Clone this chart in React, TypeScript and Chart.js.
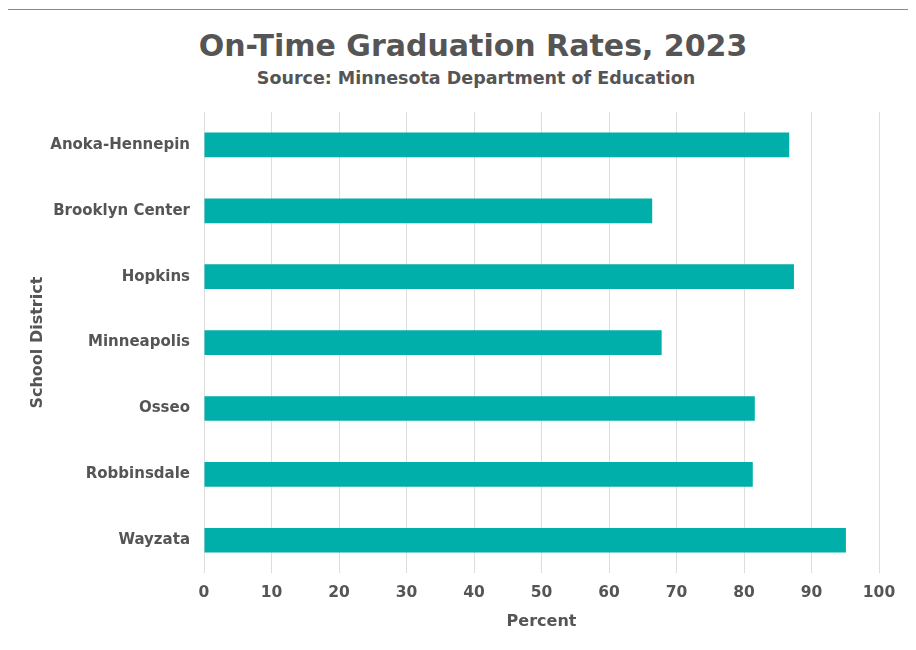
import React, { useEffect, useRef } from "react";
import { Chart, registerables } from "chart.js";

Chart.register(...registerables);

const districts = [
  "Anoka-Hennepin",
  "Brooklyn Center",
  "Hopkins",
  "Minneapolis",
  "Osseo",
  "Robbinsdale",
  "Wayzata",
];
const rates = [86.7, 66.4, 87.4, 67.8, 81.6, 81.3, 95.1];

const titleText = "On-Time Graduation Rates, 2023";
const subtitleText = "Source: Minnesota Department of Education";
const xTitle = "Percent";
const yTitle = "School District";

const FONT = "'DejaVu Sans', 'Open Sans', sans-serif";
const TEXT = "#555555";
const BAR = "#00AFAA";

export default function App() {
  const ref = useRef<HTMLCanvasElement | null>(null);

  useEffect(() => {
    if (!ref.current) return;
    const chart = new Chart(ref.current, {
      type: "bar",
      data: {
        labels: districts,
        datasets: [
          {
            data: rates,
            backgroundColor: BAR,
            borderWidth: 0,
            categoryPercentage: 1,
            barPercentage: 0.375,
          },
        ],
      },
      options: {
        indexAxis: "y",
        animation: false,
        responsive: false,
        layout: { padding: { top: 104, left: 16, right: 37, bottom: 12 } },
        plugins: {
          legend: { display: false },
          tooltip: { enabled: false },
          title: { display: false },
        },
        scales: {
          x: {
            min: 0,
            max: 100,
            ticks: {
              stepSize: 10,
              padding: 10,
              color: TEXT,
              font: { family: FONT, size: 15.5, weight: "bold" },
            },
            grid: { color: "#dddddd", drawTicks: false, lineWidth: 1 },
            border: { display: false },
            title: {
              display: true,
              text: xTitle,
              color: TEXT,
              padding: { top: 0, bottom: 7 },
              font: { family: FONT, size: 16, weight: "bold" },
            },
          },
          y: {
            ticks: {
              padding: 6,
              color: TEXT,
              font: { family: FONT, size: 15, weight: "bold" },
            },
            grid: { display: false },
            border: { display: false },
            title: {
              display: true,
              text: yTitle,
              color: TEXT,
              padding: { top: 4, bottom: 4 },
              font: { family: FONT, size: 16, weight: "bold" },
            },
            afterFit: (axis: any) => {
              axis.width = 180;
            },
          },
        },
      },
    });
    return () => chart.destroy();
  }, []);

  return (
    <div style={{ position: "relative", width: 908, height: 642, background: "#fff" }}>
      <div
        style={{
          position: "absolute",
          left: -1,
          top: 1,
          width: 908,
          height: 641,
          borderTop: "1px solid #8a8a8a",
          borderLeft: "1px solid #8a8a8a",
        }}
      />
      <div
        style={{
          position: "absolute",
          left: 0,
          top: 19,
          width: 930,
          textAlign: "center",
          fontFamily: FONT,
          fontWeight: 700,
          fontSize: 30,
          lineHeight: "38px",
          color: TEXT,
        }}
      >
        {titleText}
      </div>
      <div
        style={{
          position: "absolute",
          left: 0,
          top: 59,
          width: 936,
          textAlign: "center",
          fontFamily: FONT,
          fontWeight: 700,
          fontSize: 17.5,
          lineHeight: "22px",
          color: TEXT,
        }}
      >
        {subtitleText}
      </div>
      <canvas
        ref={ref}
        width={908}
        height={642}
        style={{ position: "absolute", left: 0, top: 0, width: 908, height: 642 }}
      />
    </div>
  );
}
